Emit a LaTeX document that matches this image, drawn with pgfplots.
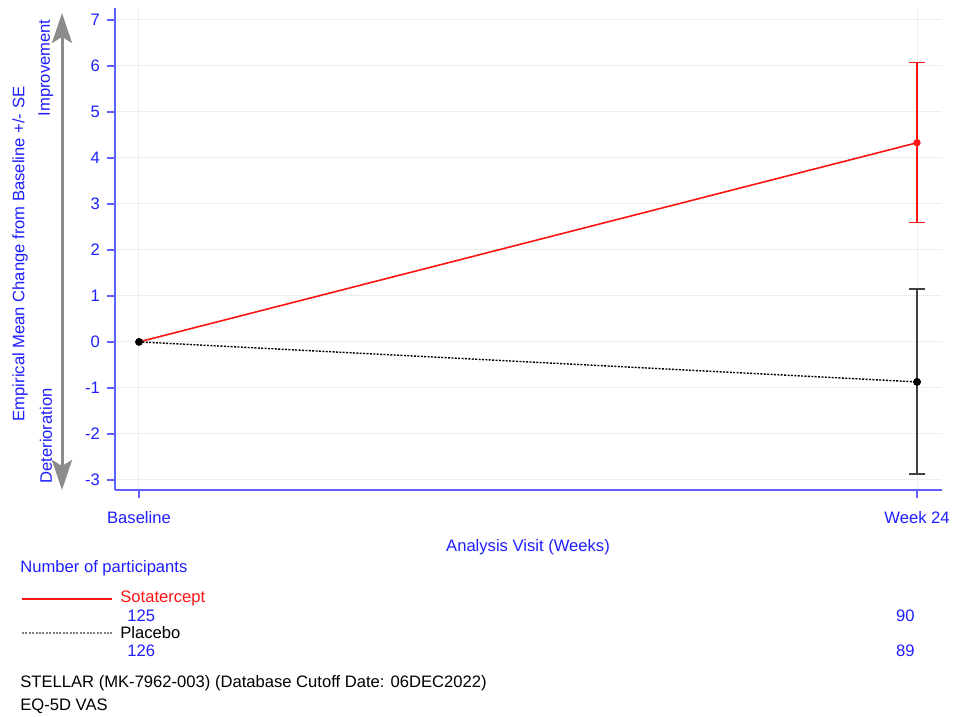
\documentclass[border=0pt]{standalone}
\usepackage{fontspec}
\setmainfont{Liberation Sans}
\usepackage{pgfplots}
\pgfplotsset{compat=1.18}
\usetikzlibrary{arrows.meta}
\definecolor{axblue}{RGB}{30,30,255}
\definecolor{lineblue}{RGB}{95,95,255}
\definecolor{sotared}{RGB}{255,20,20}
\definecolor{arrowgray}{RGB}{140,140,140}

\begin{document}
\begin{tikzpicture}
\begin{axis}[
  at={(57.5pt,113.5pt)}, anchor=south west,
  scale only axis, width=413.5pt, height=241pt,
  xmin=-0.74, xmax=24.77, ymin=-3.22, ymax=7.26,
  axis x line*=bottom, axis y line*=left,
  axis line style={lineblue, line width=1pt, -},
  xtick={0,24}, xticklabels={Baseline, Week 24},
  ytick={-3,-2,-1,0,1,2,3,4,5,6,7},
  yticklabels={-3,-2,-1,0,1,2,3,4,5,6,7},
  tick align=outside, major tick length=4pt,
  tick style={lineblue, line width=0.8pt},
  grid=major, grid style={gray!14, line width=0.5pt},
  ticklabel style={font=\fontsize{8.3}{9}\selectfont, text=axblue},
  xticklabel style={yshift=-3pt},
  clip=false,
]
% Sotatercept: mean change line and SE bar at week 24
\addplot[sotared, line width=0.8pt] coordinates {(0,0) (24,4.33)};
\addplot[sotared, only marks, mark=*, mark size=1.6pt,
  error bars/.cd, y dir=both, y explicit,
  error bar style={sotared, line width=0.7pt},
  error mark options={rotate=90, mark size=4pt, sotared, line width=0.7pt}]
  coordinates {(24,4.33) +- (0,1.74)};
% Placebo
\addplot[black!80, only marks, mark=*, mark size=1.6pt,
  error bars/.cd, y dir=both, y explicit,
  error bar style={black!75, line width=1pt},
  error mark options={rotate=90, mark size=4pt, black!75, line width=1pt}]
  coordinates {(24,-0.87) +- (0,2.01)};
\addplot[black, line width=0.7pt, dash pattern=on 1pt off 0.7pt,
  mark=*, mark size=1.6pt, mark options={solid}]
  coordinates {(0,0) (24,-0.87)};
\end{axis}

\begin{scope}[x=0.5pt, y=0.5pt, every node/.style={inner sep=0pt, font=\fontsize{8.3}{10}\selectfont}]
  % direction arrow beside the y axis
  \draw[arrowgray, line width=1.5pt,
    {Stealth[width=10pt, length=15pt, inset=3pt]}-{Stealth[width=10pt, length=15pt, inset=3pt]}]
    (62,704) -- (62,227);
  \node[rotate=90, text=axblue] at (20,463) {Empirical Mean Change from Baseline +/- SE};
  \node[rotate=90, text=axblue] at (46,649) {Improvement};
  \node[rotate=90, text=axblue] at (46,281) {Deterioration};
  \node[text=axblue] at (528,170) {Analysis Visit (Weeks)};

  % participants table
  \node[anchor=west, text=axblue] at (20,149) {Number of participants};
  \draw[sotared, line width=0.7pt] (22,118) -- (112,118);
  \node[anchor=west, text=sotared] at (120,119) {Sotatercept};
  \node[anchor=west, text=axblue] at (127,101) {125};
  \node[anchor=east, text=axblue] at (915,101) {90};
  \draw[gray, line width=0.7pt, dash pattern=on 1pt off 0.7pt] (22,84) -- (112,84);
  \node[anchor=west] at (120,84) {Placebo};
  \node[anchor=west, text=axblue] at (127,66) {126};
  \node[anchor=east, text=axblue] at (915,66) {89};

  \node[anchor=west] at (20,34) {STELLAR (MK-7962-003) (Database Cutoff Date: 06DEC2022)};
  \node[anchor=west] at (20,11) {EQ-5D VAS};
\end{scope}

\pgfresetboundingbox
\path (0,0) rectangle (477pt,358.5pt);
\end{tikzpicture}
\end{document}
